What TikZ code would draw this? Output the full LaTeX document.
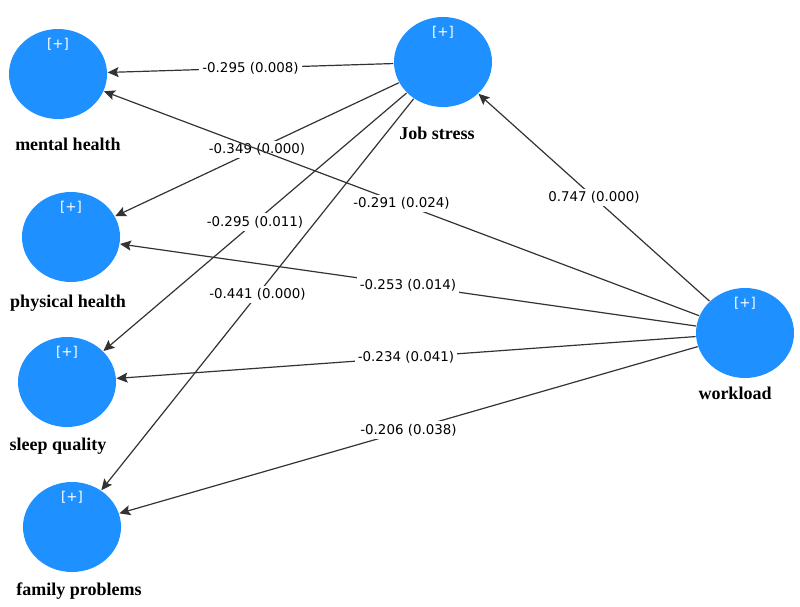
\documentclass[tikz,border=0pt]{standalone}
\usepackage{fontspec}
\setmainfont{Liberation Serif}
\newfontfamily\valfont{DejaVu Sans}
\usetikzlibrary{arrows.meta,shapes.geometric}
\definecolor{lvblue}{RGB}{30,144,255}
\tikzset{
  lv/.style = {ellipse, fill=lvblue, draw=none, inner sep=0pt,
    minimum width=98pt, minimum height=90pt},% latent variable (blue disc)
  lvname/.style = {inner sep=0pt, font=\fontsize{18}{18}\selectfont\bfseries},
  plus/.style = {inner sep=0pt, white, font=\valfont\fontsize{13.5}{13.5}\selectfont},
  coef/.style = {midway, fill=white, inner sep=3pt,
    font=\valfont\fontsize{13.4}{13.4}\selectfont}% path coefficient (p value)
}

\begin{document}
\begin{tikzpicture}[x=1pt,y=-1pt,->,>={Stealth[length=11pt,width=10pt,inset=2pt]},
  line width=1.2pt,draw=black!80]
\useasboundingbox (0,0) rectangle (800,607);
\node [lv] (mh) at (58,74) {};
\node [lv] (js) at (443,62) {};
\node [lv] (ph) at (71,237) {};
\node [lv] (sq) at (67,382) {};
\node [lv] (fp) at (72,527) {};
\node [lv] (wl) at (745,333) {};

\foreach \n in {mh,js,ph,sq,fp,wl}
  \node [plus] (\n plus) at ([yshift=-16pt]\n.north) {[+]};

\node [lvname] (mhname) at (68,144) {mental health};
\node [lvname] (jsname) at (437,133) {Job stress};
\node [lvname] (phname) at (68,303) {physical health};
\node [lvname] (sqname) at (58,446) {sleep quality};
\node [lvname] (fpname) at (79,591) {family problems};
\node [lvname] (wlname) at (735,393) {workload};

% job stress paths
\draw (js) -- node [coef] {-0.295 (0.008)} (mh);
\draw (js) -- node [coef] {-0.349 (0.000)} (ph);
\draw (js) -- node [coef] {-0.295 (0.011)} (sq);
\draw (js) -- node [coef] {-0.441 (0.000)} (fp);
% workload paths
\draw (wl) -- node [coef] {-0.291 (0.024)} (mh);
\draw (wl) -- node [coef] {-0.253 (0.014)} (ph);
\draw (wl) -- node [coef] {-0.234 (0.041)} (sq);
\draw (wl) -- node [coef] {-0.206 (0.038)} (fp);
\draw (wl) -- node [coef] {0.747 (0.000)} (js);
\end{tikzpicture}
\end{document}
